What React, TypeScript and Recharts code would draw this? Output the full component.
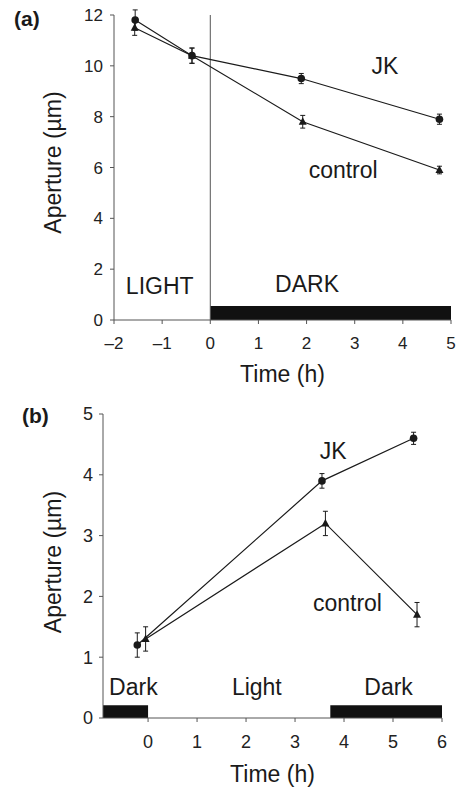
import React from 'react';
import {
  LineChart, Line, XAxis, YAxis, ErrorBar, ReferenceArea, ReferenceLine, ReferenceDot,
} from 'recharts';

// ---------- Panel (a) data ----------
const timeA_JK = [-1.56, -0.38, 1.89, 4.76];
const apertureA_JK = [11.8, 10.4, 9.5, 7.9];
const errA_JK = [0.4, 0.3, 0.2, 0.2];
const timeA_control = [-1.57, -0.38, 1.92, 4.76];
const apertureA_control = [11.5, 10.4, 7.8, 5.9];
const errA_control = [0.3, 0.3, 0.25, 0.15];
const xTicksA = [-2, -1, 0, 1, 2, 3, 4, 5];
const yTicksA = [0, 2, 4, 6, 8, 10, 12];
const darkBandsA = [{ x1: 0, x2: 5 }];
const bandHeightA = 0.55;
const labelsA = [
  { text: 'JK', x: 3.63, y: 10.0 },
  { text: 'control', x: 2.76, y: 5.9 },
  { text: 'LIGHT', x: -1.05, y: 1.36 },
  { text: 'DARK', x: 2.01, y: 1.42 },
];

// ---------- Panel (b) data ----------
const timeB_JK = [-0.22, 3.55, 5.42];
const apertureB_JK = [1.2, 3.9, 4.6];
const errB_JK = [0.2, 0.12, 0.1];
const timeB_control = [-0.05, 3.62, 5.49];
const apertureB_control = [1.3, 3.2, 1.7];
const errB_control = [0.2, 0.2, 0.2];
const xTicksB = [0, 1, 2, 3, 4, 5, 6];
const yTicksB = [0, 1, 2, 3, 4, 5];
const xMinB = -0.92;
const darkBandsB = [{ x1: -0.92, x2: 0 }, { x1: 3.72, x2: 6 }];
const bandHeightB = 0.21;
const labelsB = [
  { text: 'JK', x: 3.78, y: 4.4 },
  { text: 'control', x: 4.07, y: 1.9 },
  { text: 'Dark', x: -0.3, y: 0.52 },
  { text: 'Light', x: 2.22, y: 0.52 },
  { text: 'Dark', x: 4.91, y: 0.52 },
];

const build = (xs: number[], ys: number[], es: number[]) =>
  xs.map((x, i) => ({ x, y: ys[i], e: es[i] }));

const FONT = '"Liberation Sans", Arial, Helvetica, sans-serif';
const INK = '#1a1a1a';
const AXIS = '#555';

const fmtTick = (v: number) => (v < 0 ? '\u2013' + Math.abs(v) : String(v));

const Triangle = (props: any) => {
  const { cx, cy } = props;
  if (cx == null || cy == null) return null;
  return (
    <polygon
      key={`t-${cx}-${cy}`}
      points={`${cx},${cy - 4.5} ${cx - 4},${cy + 3} ${cx + 4},${cy + 3}`}
      fill={INK}
    />
  );
};

const yLabel = (labelX: number, shift: number) => (props: any) => {
  const vb = props.viewBox || {};
  const cy = vb.y + vb.height / 2 + shift;
  return (
    <text
      x={labelX}
      y={cy}
      transform={`rotate(-90, ${labelX}, ${cy})`}
      textAnchor="middle"
      fontSize={23}
      fill={INK}
      fontFamily={FONT}
    >
      Aperture (µm)
    </text>
  );
};

const annot = (l: { text: string; x: number; y: number }, i: number) => (
  <ReferenceDot
    key={`a-${i}`}
    x={l.x}
    y={l.y}
    r={0}
    stroke="none"
    fill="none"
    isFront
    label={{ value: l.text, position: 'center', fontSize: 23, fill: INK, fontFamily: FONT }}
  />
);

export default function App() {
  const dataA_JK = build(timeA_JK, apertureA_JK, errA_JK);
  const dataA_control = build(timeA_control, apertureA_control, errA_control);
  const dataB_JK = build(timeB_JK, apertureB_JK, errB_JK);
  const dataB_control = build(timeB_control, apertureB_control, errB_control);

  const tickStyleA = { fontSize: 17, fill: '#222', fontFamily: FONT };
  const tickStyleB = { fontSize: 18, fill: '#222', fontFamily: FONT };

  return (
    <div style={{ position: 'absolute', left: 0, top: 0, width: 460, height: 787, background: '#fff', fontFamily: FONT }}>
      <div style={{ position: 'absolute', left: 14, top: 8, fontSize: 21, fontWeight: 'bold', color: INK, lineHeight: 1 }}>(a)</div>
      <div style={{ position: 'absolute', left: 22, top: 405, fontSize: 21, fontWeight: 'bold', color: INK, lineHeight: 1 }}>(b)</div>

      <div style={{ position: 'absolute', left: 0, top: 0 }}>
        <LineChart width={460} height={390} margin={{ top: 15, right: 9, left: 0, bottom: 8 }}>
          {darkBandsA.map((b, i) => (
            <ReferenceArea key={`da-${i}`} x1={b.x1} x2={b.x2} y1={0} y2={bandHeightA} fill="#111" fillOpacity={1} stroke="none" />
          ))}
          <ReferenceLine x={0} stroke={AXIS} strokeWidth={1} />
          <XAxis
            type="number"
            dataKey="x"
            domain={[-2, 5]}
            ticks={xTicksA}
            tickFormatter={fmtTick}
            height={62}
            stroke={AXIS}
            tickSize={4}
            tickMargin={13}
            tick={tickStyleA}
            allowDataOverflow
            label={{ value: 'Time (h)', position: 'insideBottom', offset: 0, fontSize: 23, fill: INK, fontFamily: FONT }}
          />
          <YAxis
            type="number"
            dataKey="y"
            domain={[0, 12]}
            ticks={yTicksA}
            width={114}
            stroke={AXIS}
            tickSize={4}
            tickMargin={7}
            tick={tickStyleA}
            allowDataOverflow
            label={{ content: yLabel(61, -5) }}
          />
          <Line data={dataA_JK} dataKey="y" stroke={INK} strokeWidth={1.2} isAnimationActive={false}
            dot={{ r: 3.8, fill: INK, stroke: INK, strokeWidth: 0 }} activeDot={false}>
            <ErrorBar dataKey="e" width={2.5} stroke={INK} strokeWidth={1} direction="y" isAnimationActive={false} />
          </Line>
          <Line data={dataA_control} dataKey="y" stroke={INK} strokeWidth={1.2} isAnimationActive={false}
            dot={Triangle} activeDot={false}>
            <ErrorBar dataKey="e" width={2.5} stroke={INK} strokeWidth={1} direction="y" isAnimationActive={false} />
          </Line>
          {labelsA.map(annot)}
        </LineChart>
      </div>

      <div style={{ position: 'absolute', left: 0, top: 390 }}>
        <LineChart width={460} height={397} margin={{ top: 24, right: 18, left: 0, bottom: 5 }}>
          {darkBandsB.map((b, i) => (
            <ReferenceArea key={`db-${i}`} x1={b.x1} x2={b.x2} y1={0} y2={bandHeightB} fill="#111" fillOpacity={1} stroke="none" />
          ))}
          <XAxis
            type="number"
            dataKey="x"
            domain={[xMinB, 6]}
            ticks={xTicksB}
            tickFormatter={fmtTick}
            height={64}
            stroke={AXIS}
            tickSize={4}
            tickMargin={13}
            tick={tickStyleB}
            allowDataOverflow
            label={{ value: 'Time (h)', position: 'insideBottom', offset: 0, fontSize: 23, fill: INK, fontFamily: FONT }}
          />
          <YAxis
            type="number"
            dataKey="y"
            domain={[0, 5]}
            ticks={yTicksB}
            width={103}
            stroke={AXIS}
            tickSize={4}
            tickMargin={6}
            tick={tickStyleB}
            allowDataOverflow
            label={{ content: yLabel(61, -4) }}
          />
          <Line data={dataB_JK} dataKey="y" stroke={INK} strokeWidth={1.2} isAnimationActive={false}
            dot={{ r: 3.8, fill: INK, stroke: INK, strokeWidth: 0 }} activeDot={false}>
            <ErrorBar dataKey="e" width={2.5} stroke={INK} strokeWidth={1} direction="y" isAnimationActive={false} />
          </Line>
          <Line data={dataB_control} dataKey="y" stroke={INK} strokeWidth={1.2} isAnimationActive={false}
            dot={Triangle} activeDot={false}>
            <ErrorBar dataKey="e" width={2.5} stroke={INK} strokeWidth={1} direction="y" isAnimationActive={false} />
          </Line>
          {labelsB.map(annot)}
        </LineChart>
      </div>
    </div>
  );
}
